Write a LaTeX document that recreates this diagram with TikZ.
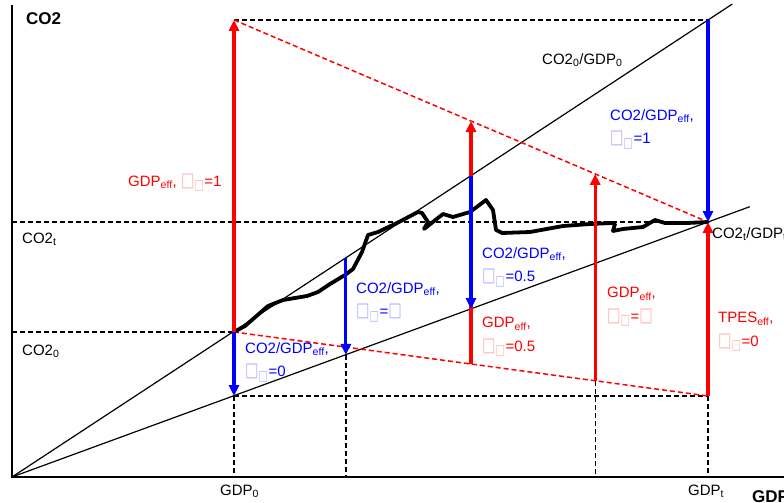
\documentclass[tikz,border=0pt]{standalone}
\usepackage{fontspec}
\usepackage{graphicx}
\setmainfont{Liberation Sans}
\newfontfamily\sqfont{DejaVu Sans}
\usetikzlibrary{arrows.meta,calc}

\newcommand{\lblfont}{\fontsize{15}{23.5}\selectfont}
\newcommand{\axfont}{\fontsize{17}{20}\selectfont\bfseries}
\newcommand{\eff}{\textsubscript{eff}}
\newcommand{\sq}{\scalebox{0.95}[1.3]{\sqfont □}}
\newcommand{\share}[1]{{\color{#1!30}\sq\textsubscript{\sq}}}

\begin{document}
\begin{tikzpicture}[x=1pt,y=-1pt,
  axis/.style={line width=1.6pt},
  ray/.style={line width=1.2pt},
  guide/.style={line width=1.3pt, dash pattern=on 5pt off 3pt},
  redguide/.style={guide, red, line width=1.5pt},
  gdparrow/.style={red, line width=3.2pt, -{Triangle[length=11pt,width=10pt]}},
  intarrow/.style={blue, line width=3.2pt, -{Triangle[length=11pt,width=10pt]}},
  emission/.style={line width=3.8pt, line join=round, line cap=round},
  lbl/.style={anchor=north west, inner sep=0pt, align=left, font=\lblfont},
  axlbl/.style={anchor=base west, inner sep=0pt, font=\lblfont},
]
\useasboundingbox (0,0) rectangle (784,503);

% Axes
\coordinate (O) at (12,477);
\coordinate (Ytop) at (12,5);
\coordinate (Xend) at (790,477);
\draw[axis] (Ytop) -- (O) -- (Xend);

% Corner points
\coordinate (A0) at (234,332);
\coordinate (B0) at (234,396);
\coordinate (T0) at (234,20);
\coordinate (At) at (708,20);
\coordinate (Bt) at (708,222);
\coordinate (Lt) at (708,396);
\coordinate (X0) at (234,477);
\coordinate (Xt) at (708,477);
\coordinate (Y0) at (12,332);
\coordinate (Yt) at (12,222);

% Points in between
\coordinate (Aq) at ($(A0)!0.236!(At)$);
\coordinate (Sq) at ($(B0)!0.236!(Bt)$);
\coordinate (Ah) at ($(A0)!0.5!(At)$);
\coordinate (Sh) at ($(B0)!0.5!(Bt)$);
\coordinate (Uh) at ($(T0)!0.5!(Bt)$);
\coordinate (Lh) at ($(A0)!0.5!(Lt)$);
\coordinate (Uq) at ($(T0)!0.762!(Bt)$);
\coordinate (Lq) at ($(A0)!0.762!(Lt)$);
\coordinate (Xq) at (Sq |- O);
\coordinate (Xr) at (Lq |- O);

% Rays from origin
\draw[ray] (O) -- ($(O)!1.035!(At)$);
\draw[ray] (O) -- ($(O)!1.06!(Bt)$);

% Dashed guides
\draw[guide] (Y0) -- (A0);
\draw[guide] (Yt) -- (Bt);
\draw[guide] (T0) -- (At);
\draw[guide] (B0) -- (Lt);
\draw[guide] (B0) -- (X0);
\draw[guide] (Sq) -- (Xq);
\draw[guide] (Lq) -- (Xr);
\draw[guide] (Lt) -- (Xt);
\draw[redguide] (T0) -- (Bt);
\draw[redguide] (A0) -- (Lt);

% Emission path
\draw[emission] (A0) -- (245,326) -- (268,306) -- (283,300) -- (307,296) -- (318,292)
  -- (330,284) -- (345,275) -- (353,269) -- (362,252) -- (368,235) -- (378,232)
  -- (397,223) -- (418,212) -- (422,213) -- (428,222) -- (424,229) -- (443,214)
  -- (453,217) -- (470,212) -- (486,200) -- (493,210) -- (496,230) -- (502,233)
  -- (530,232) -- (563,226) -- (590,224) -- (612,223) -- (615,224) -- (613,231)
  -- (623,229) -- (643,227) -- (655,220) -- (665,223) -- (687,223) -- (Bt);

% Arrows
\draw[gdparrow] (A0) -- (T0);
\draw[gdparrow] (Lh) -- (Uh);
\draw[gdparrow] (Lq) -- (Uq);
\draw[gdparrow] (Lt) -- (Bt);
\draw[intarrow] (A0) -- (B0);
\draw[intarrow] (Aq) -- (Sq);
\draw[intarrow] (Ah) -- (Sh);
\draw[intarrow] (At) -- (Bt);

% Labels
\node[lbl, blue] (lblI1) at (610,109) {CO2/GDP\eff,\\\share{blue}=1};
\node[axlbl, red] (lblG1) at (128,186) {GDP\eff, \share{red}=1};
\node[lbl, blue] (lblI0) at (245,342) {CO2/GDP\eff,\\\share{blue}=0};
\node[lbl, blue] (lblIq) at (356,282) {CO2/GDP\eff,\\\share{blue}={\color{blue!30}\sq}};
\node[lbl, blue] (lblIh) at (482,247) {CO2/GDP\eff,\\\share{blue}=0.5};
\node[lbl, red] (lblGh) at (482,317) {GDP\eff,\\\share{red}=0.5};
\node[lbl, red] (lblGq) at (607,287) {GDP\eff,\\\share{red}={\color{red!30}\sq}};
\node[lbl, red] (lblT0) at (718,312) {TPES\eff,\\\share{red}=0};

% Axis labels
\node[axlbl, font=\axfont] (co2) at (26,25) {CO2};
\node[axlbl, font=\axfont] (gdp) at (752,502) {GDP};
\node[axlbl] (co2t) at (22,243) {CO2\textsubscript{t}};
\node[axlbl] (co20) at (22,355) {CO2\textsubscript{0}};
\node[axlbl] (ray0) at (542,64) {CO2\textsubscript{0}/GDP\textsubscript{0}};
\node[axlbl] (rayt) at (712,238) {CO2\textsubscript{t}/GDP\textsubscript{t}};
\node[axlbl] (gdp0) at (220,495) {GDP\textsubscript{0}};
\node[axlbl] (gdpt) at (688,495) {GDP\textsubscript{t}};
\end{tikzpicture}
\end{document}
